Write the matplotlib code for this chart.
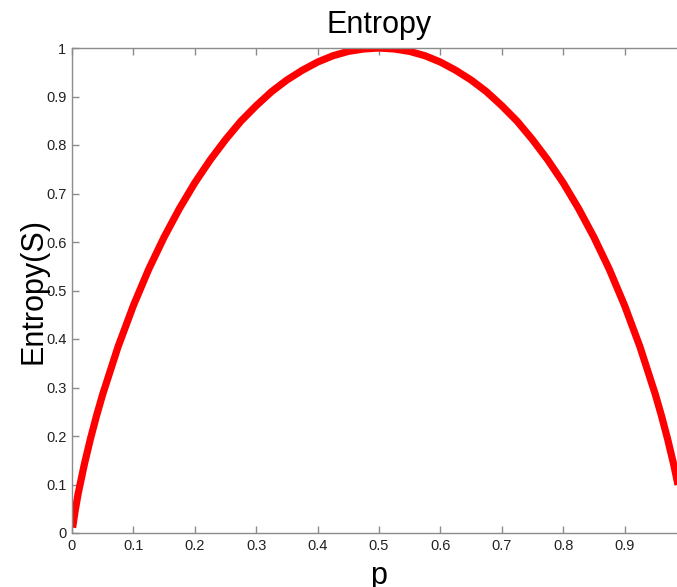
import matplotlib
matplotlib.use("Agg")
import matplotlib.pyplot as plt

p_values = [0.001, 0.005, 0.01, 0.02, 0.03, 0.04, 0.05, 0.075, 0.1, 0.125, 0.15, 0.175,
            0.2, 0.225, 0.25, 0.275, 0.3, 0.325, 0.35, 0.375, 0.4, 0.425, 0.45, 0.475,
            0.5, 0.525, 0.55, 0.575, 0.6, 0.625, 0.65, 0.675, 0.7, 0.725, 0.75, 0.775,
            0.8, 0.825, 0.85, 0.875, 0.9, 0.925, 0.95, 0.96, 0.97, 0.98, 0.99, 0.995]
entropy_values = [0.011, 0.045, 0.081, 0.141, 0.194, 0.242, 0.286, 0.384, 0.469, 0.544, 0.610, 0.669,
                  0.722, 0.769, 0.811, 0.849, 0.881, 0.910, 0.934, 0.954, 0.971, 0.984, 0.993, 0.998,
                  1.0, 0.998, 0.993, 0.984, 0.971, 0.954, 0.934, 0.910, 0.881, 0.849, 0.811, 0.769,
                  0.722, 0.669, 0.610, 0.544, 0.469, 0.384, 0.286, 0.242, 0.194, 0.141, 0.081, 0.045]

x_ticks = [0, 0.1, 0.2, 0.3, 0.4, 0.5, 0.6, 0.7, 0.8, 0.9]
x_tick_labels = ["0", "0.1", "0.2", "0.3", "0.4", "0.5", "0.6", "0.7", "0.8", "0.9"]
y_ticks = [0, 0.1, 0.2, 0.3, 0.4, 0.5, 0.6, 0.7, 0.8, 0.9, 1.0]
y_tick_labels = ["0", "0.1", "0.2", "0.3", "0.4", "0.5", "0.6", "0.7", "0.8", "0.9", "1"]

plt.rcParams['font.family'] = ['Liberation Sans', 'DejaVu Sans']

W, H = 677, 587
fig = plt.figure(figsize=(W / 100, H / 100), dpi=100)
left, right, top, bottom = 72, 686, 48, 533
ax = fig.add_axes([left / W, (H - bottom) / H, (right - left) / W, (bottom - top) / H])

ax.plot(p_values, entropy_values, color='#ff0000', linewidth=5.2, solid_capstyle='butt')

ax.set_xlim(0, 1)
ax.set_ylim(0, 1)
ax.set_xticks(x_ticks)
ax.set_xticklabels(x_tick_labels)
ax.set_yticks(y_ticks)
ax.set_yticklabels(y_tick_labels)

for s in ax.spines.values():
    s.set_color('#8c8c8c')
    s.set_linewidth(1.0)
ax.tick_params(direction='in', length=5, width=1, color='#8c8c8c', labelsize=10.5,
               labelcolor='#222222', top=True, right=True, pad=4)

ax.set_title('Entropy', fontsize=22, pad=10.5)
ax.set_xlabel('p', fontsize=22, labelpad=6)
ax.set_ylabel('Entropy(S)', fontsize=22, labelpad=-2)

fig.savefig('out.png', dpi=100)
